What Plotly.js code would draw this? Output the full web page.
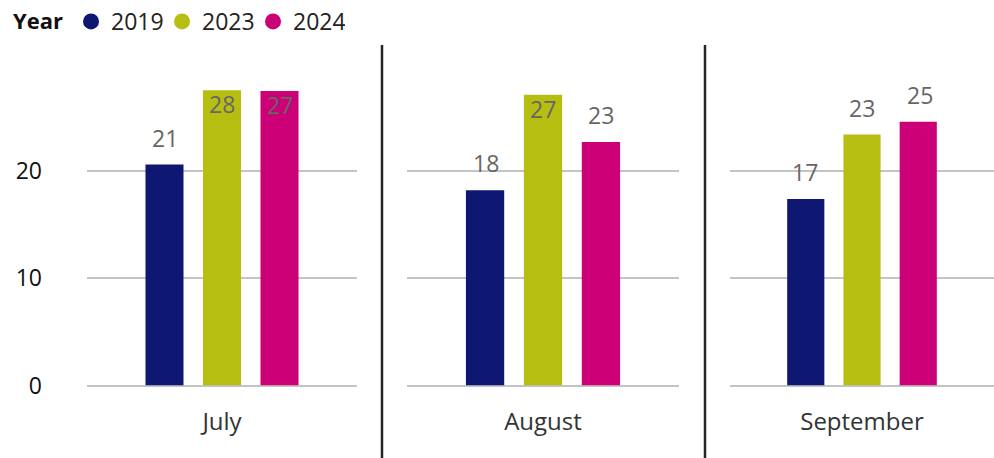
<!DOCTYPE html>
<html>
<head>
<meta charset="utf-8">
<script src="https://cdn.plot.ly/plotly-3.0.1.min.js"></script>
<style>
html,body{margin:0;padding:0;background:#fff;}
#chart{width:994px;height:458px;}
</style>
</head>
<body>
<div id="chart"></div>
<script>
const months = ["July", "August", "September"];
const years = ["2019", "2023", "2024"];
const values2019 = [20.6, 18.2, 17.4];
const values2023 = [27.52, 27.1, 23.4];
const values2024 = [27.45, 22.7, 24.6];
const yTicks = [0, 10, 20];

const seriesValues = [values2019, values2023, values2024];
const colors = ["#0e1873", "#b7be12", "#cc0077"];
const FONT = "'Open Sans', 'Noto Sans', sans-serif";
const yMax = 28;

const xAxisIds = ["x", "x2", "x3"];
const yAxisIds = ["y", "y2", "y3"];

const data = [];
// bars: one trace per year per small-multiple panel
years.forEach((yr, s) => {
  months.forEach((m, i) => {
    data.push({
      type: "bar",
      x: [m],
      y: [seriesValues[s][i]],
      name: yr,
      legendgroup: yr,
      showlegend: false,
      marker: {color: colors[s]},
      xaxis: xAxisIds[i],
      yaxis: yAxisIds[i],
      hoverinfo: "x+y+name"
    });
  });
});
// legend entries with round markers
years.forEach((yr, s) => {
  data.push({
    type: "scatter",
    mode: "markers",
    x: [null], y: [null],
    name: yr,
    legendgroup: yr,
    marker: {color: colors[s], size: 20, symbol: "circle"},
    xaxis: "x", yaxis: "y",
    hoverinfo: "skip"
  });
});

// data labels from the values
const slot = 57.5;
const annotations = [];
months.forEach((m, i) => {
  years.forEach((yr, s) => {
    const v = seriesValues[s][i];
    const inside = v > yMax - 1;
    annotations.push({
      xref: xAxisIds[i], yref: yAxisIds[i],
      x: m, y: v,
      xshift: (s - 1) * slot,
      yanchor: inside ? "top" : "bottom",
      yshift: inside ? 4 : 9,
      text: String(Math.round(v)),
      showarrow: false,
      font: {family: FONT, size: 23, color: "#666666"}
    });
  });
});

const W = 994, H = 458;
const domains = [[87, 357], [407, 679], [730, 994]];
const zeroPx = 385.5, pxPerUnit = 10.725;
const yDom = [(H - zeroPx) / H, (H - (zeroPx - yMax * pxPerUnit)) / H];

const layout = {
  width: W, height: H,
  margin: {l: 0, r: 0, t: 0, b: 0},
  paper_bgcolor: "#ffffff",
  plot_bgcolor: "#ffffff",
  barmode: "group",
  bargap: 0.361,
  bargroupgap: 0.339,
  font: {family: FONT, size: 22, color: "#222"},
  showlegend: true,
  legend: {
    orientation: "h",
    x: 11 / W, xanchor: "left",
    y: 1, yanchor: "top",
    title: {text: "<b>Year</b>", font: {family: FONT, size: 22, color: "#111"}},
    font: {family: FONT, size: 23, color: "#222"},
    itemwidth: 30,
    entrywidth: 46,
    tracegroupgap: 0,
    bgcolor: "rgba(0,0,0,0)"
  },
  annotations: annotations,
  shapes: [
    {type: "line", xref: "paper", yref: "paper", x0: 382 / W, x1: 382 / W, y0: 0, y1: (H - 45) / H, line: {color: "#252525", width: 2.5}},
    {type: "line", xref: "paper", yref: "paper", x0: 705 / W, x1: 705 / W, y0: 0, y1: (H - 45) / H, line: {color: "#252525", width: 2.5}}
  ]
};

xAxisIds.forEach((id, i) => {
  const key = i === 0 ? "xaxis" : "xaxis" + (i + 1);
  layout[key] = {
    domain: [domains[i][0] / W, domains[i][1] / W],
    anchor: yAxisIds[i],
    type: "category",
    showgrid: false,
    zeroline: false,
    showline: false,
    ticks: "",
    tickfont: {family: FONT, size: 24, color: "#333"},
    ticklabelstandoff: 19,
    fixedrange: true
  };
  const ykey = i === 0 ? "yaxis" : "yaxis" + (i + 1);
  layout[ykey] = {
    domain: yDom,
    anchor: id,
    range: [0, yMax],
    tickvals: yTicks,
    ticktext: yTicks.map(String),
    showticklabels: i === 0,
    showgrid: true,
    gridcolor: "#c4c4c4",
    gridwidth: 2,
    zeroline: true,
    zerolinecolor: "#c4c4c4",
    zerolinewidth: 2,
    showline: false,
    ticks: "",
    tickfont: {family: FONT, size: 23, color: "#111"},
    ticklabelstandoff: 44,
    fixedrange: true
  };
});

Plotly.newPlot("chart", data, layout, {displayModeBar: false, staticPlot: true});
</script>
</body>
</html>
